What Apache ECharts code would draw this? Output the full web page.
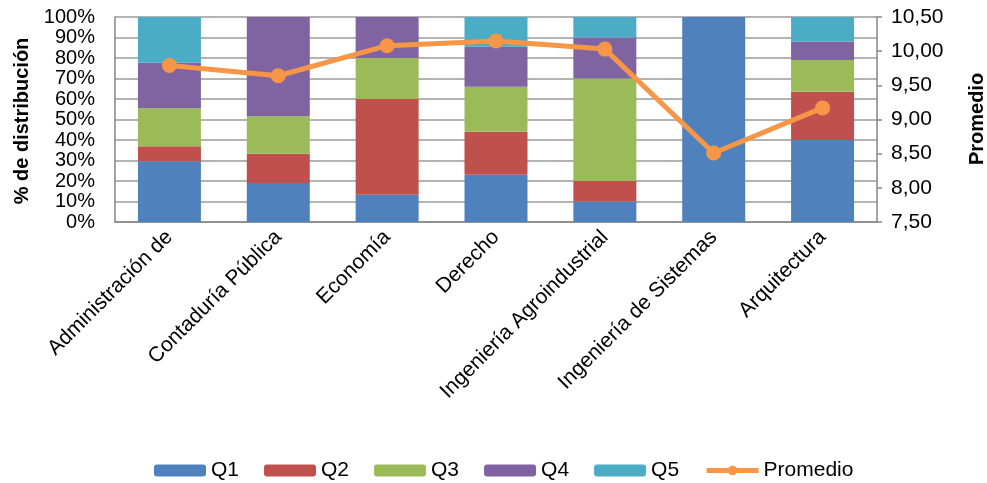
<!DOCTYPE html>
<html>
<head>
<meta charset="utf-8">
<script src="https://cdn.jsdelivr.net/npm/echarts@6/dist/echarts.min.js"></script>
<style>html,body{margin:0;padding:0;background:#fff}#c{width:987px;height:483px}</style>
</head>
<body>
<div id="c"></div>
<script>
const categories = ['Administración de', 'Contaduría Pública', 'Economía', 'Derecho', 'Ingeniería Agroindustrial', 'Ingeniería de Sistemas', 'Arquitectura'];
const q1 = [29.6, 19.0, 13.3, 23.0, 10, 100, 40];
const q2 = [7.4, 14.3, 46.7, 21.0, 10, 0, 23.5];
const q3 = [18.5, 18.3, 20.0, 22.0, 50, 0, 15.5];
const q4 = [22.2, 48.4, 20.0, 19.5, 20, 0, 9];
const q5 = [22.3, 0, 0, 14.5, 10, 0, 12];
const promedio = [9.79, 9.64, 10.08, 10.15, 10.03, 8.51, 9.17];
const leftTickValues = [0, 10, 20, 30, 40, 50, 60, 70, 80, 90, 100];
const rightTickValues = [7.5, 8, 8.5, 9, 9.5, 10, 10.5];
const leftTitle = '% de distribución';
const rightTitle = 'Promedio';

const FONT = 'Liberation Sans';
const colors = ['#4F81BD', '#C0504D', '#9BBB59', '#8064A2', '#4BACC6', '#F79646'];
const chart = echarts.init(document.getElementById('c'), null, { renderer: 'canvas' });

function barSeries(name, data) {
  return { name, type: 'bar', stack: 'q', yAxisIndex: 0, data, barWidth: 63, emphasis: { disabled: true } };
}
function vTitle(text, x, y) {
  return {
    type: 'text', x, y, rotation: Math.PI / 2, silent: true,
    style: { text, font: 'bold 20px "Liberation Sans"', fill: '#000', align: 'center', verticalAlign: 'middle' }
  };
}

chart.setOption({
  animation: false,
  color: colors,
  textStyle: { fontFamily: FONT, color: '#000' },
  grid: { left: 115, right: 110, top: 17, bottom: 261, containLabel: false, outerBoundsMode: 'none' },
  graphic: [vTitle(leftTitle, 22, 121), vTitle(rightTitle, 977, 119)],
  legend: {
    left: 149, top: 455,
    itemWidth: 52, itemHeight: 12, itemGap: 25,
    textStyle: { fontFamily: FONT, fontSize: 21, color: '#000' },
    data: ['Q1', 'Q2', 'Q3', 'Q4', 'Q5',
      { name: 'Promedio', lineStyle: { width: 5 }, itemStyle: { color: '#F79646' } }]
  },
  xAxis: {
    type: 'category',
    data: categories,
    axisLine: { lineStyle: { color: '#868686', width: 1.5 } },
    axisTick: { show: false },
    axisLabel: { interval: 0, rotate: 45, fontSize: 21, color: '#000', fontFamily: FONT, margin: 12 }
  },
  yAxis: [
    {
      type: 'value', min: leftTickValues[0], max: leftTickValues[leftTickValues.length - 1], interval: 10,
      axisLine: { show: true, lineStyle: { color: '#868686', width: 1.5 } },
      axisTick: { show: false },
      splitLine: { lineStyle: { color: '#9a9a9a', width: 1.5 } },
      axisLabel: {
        formatter: '{value}%', margin: 20, fontSize: 20, color: '#000', fontFamily: FONT
      }
    },
    {
      type: 'value', min: rightTickValues[0], max: rightTickValues[rightTickValues.length - 1], interval: 0.5,
      position: 'right',
      axisLine: { show: true, lineStyle: { color: '#868686', width: 1.5 } },
      axisTick: { show: true, length: 5, lineStyle: { color: '#868686', width: 1.5 } },
      splitLine: { show: false },
      axisLabel: { formatter: v => v.toFixed(2).replace('.', ','), fontSize: 21, color: '#000', fontFamily: FONT, margin: 14 }
    }
  ],
  series: [
    barSeries('Q1', q1),
    barSeries('Q2', q2),
    barSeries('Q3', q3),
    barSeries('Q4', q4),
    barSeries('Q5', q5),
    {
      name: 'Promedio', type: 'line', yAxisIndex: 1, data: promedio,
      symbol: 'circle', symbolSize: 15,
      lineStyle: { color: '#F79646', width: 5 },
      itemStyle: { color: '#F79646' },
      emphasis: { disabled: true }, z: 5
    }
  ]
});
</script>
</body>
</html>
